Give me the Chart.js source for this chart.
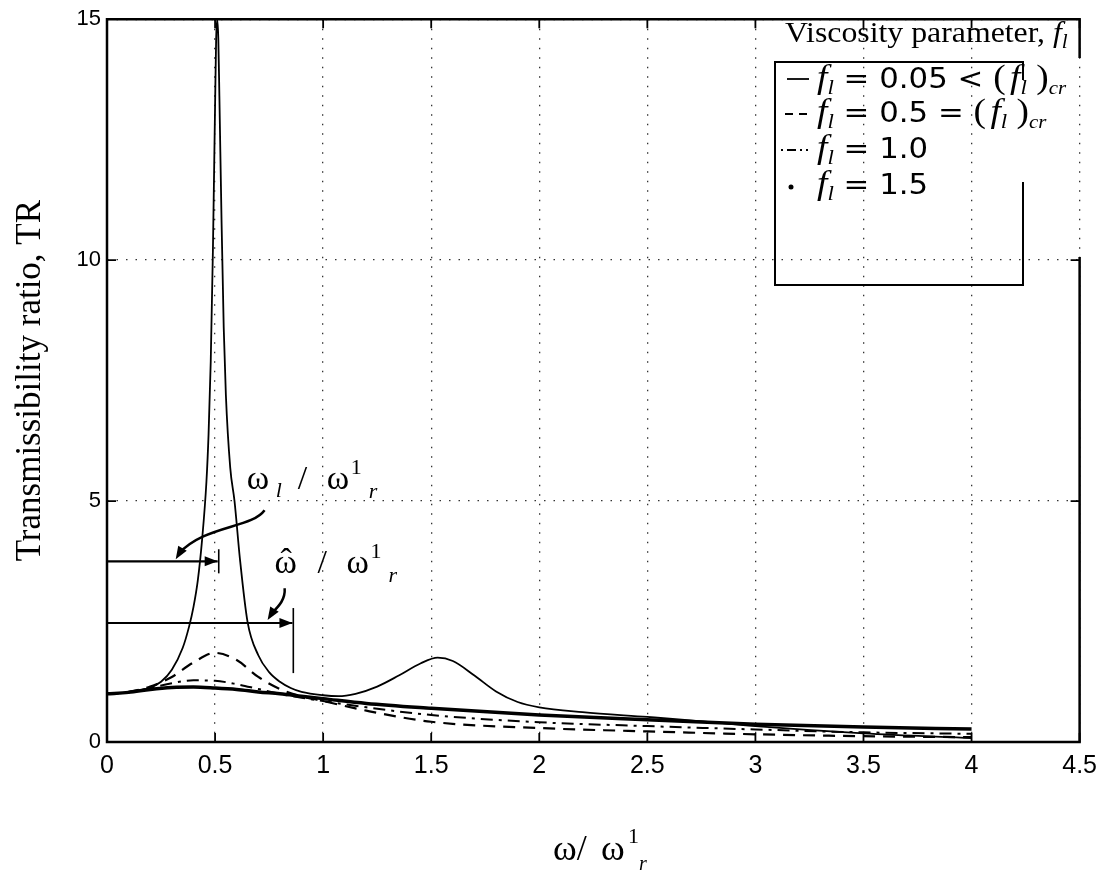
<!DOCTYPE html>
<html>
<head>
<meta charset="utf-8">
<script src="https://cdn.jsdelivr.net/npm/chart.js@4.4.1/dist/chart.umd.min.js"></script>
<style>
  body { margin: 0; background: #fff; }
  canvas { display: block; }
</style>
</head>
<body>
<canvas id="grafico" width="1106" height="872"></canvas>
<script>
// frequency ratio w / w1_r
const freqFine = [0, 0.1, 0.2, 0.25, 0.3, 0.35, 0.38, 0.4, 0.42, 0.44, 0.46, 0.47, 0.48, 0.49, 0.5, 0.505, 0.51,
  0.515, 0.52, 0.53, 0.54, 0.55, 0.57, 0.59, 0.615, 0.65, 0.7, 0.75, 0.8, 0.85, 0.9, 1.0, 1.07, 1.15, 1.25, 1.35,
  1.45, 1.53, 1.6, 1.7, 1.8, 1.9, 2.0, 2.2, 2.5, 2.7, 3.0, 3.5, 4.0];
const freq = [0, 0.1, 0.2, 0.3, 0.4, 0.5, 0.6, 0.7, 0.8, 0.9, 1.0, 1.2, 1.5, 2.0, 2.5, 3.0, 3.5, 4.0];

// transmissibility ratio TR for each viscosity parameter f_l
const tr005 = [1.0, 1.03, 1.13, 1.25, 1.5, 1.95, 2.4, 2.8, 3.35, 4.2, 5.4, 6.4, 7.9, 10.2, 13.2, 14.6, 15.0,
  14.6, 13.4, 10.8, 8.6, 7.2, 5.7, 5.0, 3.8, 2.5, 1.8, 1.45, 1.25, 1.12, 1.04, 0.97, 0.95, 1.0, 1.15, 1.38,
  1.63, 1.75, 1.68, 1.38, 1.05, 0.83, 0.72, 0.62, 0.52, 0.45, 0.33, 0.18, 0.08];
const tr05 = [1.0, 1.04, 1.15, 1.35, 1.65, 1.85, 1.7, 1.35, 1.1, 0.95, 0.85, 0.65, 0.42, 0.29, 0.22, 0.16, 0.12, 0.1];
const tr10 = [1.0, 1.03, 1.12, 1.22, 1.28, 1.27, 1.2, 1.1, 1.0, 0.92, 0.85, 0.72, 0.56, 0.41, 0.33, 0.26, 0.2, 0.17];
const tr15 = [1.0, 1.03, 1.09, 1.13, 1.14, 1.12, 1.09, 1.04, 1.0, 0.95, 0.9, 0.8, 0.7, 0.56, 0.46, 0.37, 0.31, 0.27];

const xTicks = [0, 0.5, 1, 1.5, 2, 2.5, 3, 3.5, 4, 4.5];
const yTicks = [0, 5, 10, 15];

const serif = '"Liberation Serif", "Times New Roman", serif';
const sans = '"Liberation Sans", Arial, sans-serif';
const numFont = '"DejaVu Sans", sans-serif';

function puntos(xs, ys) {
  return xs.map((v, i) => ({x: v, y: ys[i]}));
}

// writes a run of pieces [text, font, dy, extra gap] starting at x, returns end x
function escribir(ctx, x, y, piezas) {
  piezas.forEach(p => {
    ctx.font = p[1];
    ctx.fillText(p[0], x, y + (p[2] || 0));
    x += ctx.measureText(p[0]).width + (p[3] || 0);
  });
  return x;
}

// pieces placed at fixed offsets from (x, y): [text, font, dx, dy]
function colocar(ctx, x, y, piezas) {
  piezas.forEach(p => {
    ctx.font = p[1];
    ctx.fillText(p[0], x + p[2], y + p[3]);
  });
}

function flecha(ctx, x0, y0, x1, y1) {
  const ang = Math.atan2(y1 - y0, x1 - x0);
  const L = 13, W = 5;
  ctx.beginPath();
  ctx.moveTo(x1, y1);
  ctx.lineTo(x1 - L * Math.cos(ang) + W * Math.sin(ang), y1 - L * Math.sin(ang) - W * Math.cos(ang));
  ctx.lineTo(x1 - L * Math.cos(ang) - W * Math.sin(ang), y1 - L * Math.sin(ang) + W * Math.cos(ang));
  ctx.closePath();
  ctx.fill();
}

const fondo = {
  id: 'fondo',
  beforeDraw(chart) {
    const ctx = chart.ctx;
    ctx.save();
    ctx.fillStyle = '#fff';
    ctx.fillRect(0, 0, chart.width, chart.height);
    ctx.restore();
  }
};

const marco = {
  id: 'marco',
  afterDraw(chart) {
    const {ctx, chartArea: a, scales: {x, y}} = chart;
    ctx.save();
    ctx.strokeStyle = '#000';
    ctx.fillStyle = '#000';
    ctx.lineWidth = 2.5;
    // frame, right side broken behind the legend
    ctx.beginPath();
    ctx.moveTo(a.right, 58);
    ctx.lineTo(a.right, a.top);
    ctx.lineTo(a.left, a.top);
    ctx.lineTo(a.left, a.bottom);
    ctx.lineTo(a.right, a.bottom);
    ctx.lineTo(a.right, 257);
    ctx.stroke();
    // inward ticks on all four sides
    ctx.lineWidth = 1.8;
    ctx.beginPath();
    xTicks.forEach(t => {
      const px = x.getPixelForValue(t);
      ctx.moveTo(px, a.bottom); ctx.lineTo(px, a.bottom - 9);
      ctx.moveTo(px, a.top); ctx.lineTo(px, a.top + 9);
    });
    yTicks.forEach(t => {
      const py = y.getPixelForValue(t);
      ctx.moveTo(a.left, py); ctx.lineTo(a.left + 9, py);
      if (py > 257 || py < 58) { ctx.moveTo(a.right, py); ctx.lineTo(a.right - 9, py); }
    });
    ctx.stroke();

    // axis titles
    ctx.textBaseline = 'alphabetic';
    ctx.save();
    ctx.translate(40, (a.top + a.bottom) / 2);
    ctx.rotate(-Math.PI / 2);
    ctx.font = '35px ' + serif;
    ctx.textAlign = 'center';
    ctx.fillText('Transmissibility ratio, TR', 0, 0);
    ctx.restore();

    colocar(ctx, 553, 860, [
      ['\u03c9/', '36px ' + serif, 0, 0],
      ['\u03c9', '36px ' + serif, 48, 0],
      ['1', '22px ' + serif, 75, -17],
      ['r', 'italic 20px ' + serif, 86, 10]
    ]);

    // legend
    ctx.lineWidth = 2;
    ctx.beginPath();
    ctx.moveTo(1023, 80); ctx.lineTo(1023, 62); ctx.lineTo(775, 62);
    ctx.lineTo(775, 285); ctx.lineTo(1023, 285); ctx.lineTo(1023, 182);
    ctx.stroke();

    ctx.save();
    ctx.translate(785, 42);
    ctx.scale(1.06, 1);
    let lx = escribir(ctx, 0, 0, [['Viscosity parameter, ', '30px ' + serif], ['f', 'italic 30px ' + serif]]);
    escribir(ctx, lx, 0, [['l', 'italic 20px ' + serif, 6]]);
    ctx.restore();

    const filas = [
      {yb: 88, tail: ' = 0.05 < ', cr: true},
      {yb: 122, tail: ' = 0.5 = ', cr: true},
      {yb: 158, tail: ' = 1.0', cr: false},
      {yb: 194, tail: ' = 1.5', cr: false}
    ];
    filas.forEach(r => {
      ctx.save();
      ctx.translate(817, r.yb);
      ctx.scale(1.1, 1);
      let tx = escribir(ctx, 0, 0, [['f', 'italic 34px ' + serif], ['l', 'italic 21px ' + serif, 6]]);
      tx = escribir(ctx, tx, 0, [[r.tail, '28px ' + numFont]]);
      if (r.cr) {
        tx = escribir(ctx, tx, 0, [['(', '34px ' + serif, 0, 4], ['f', 'italic 34px ' + serif],
          ['l', 'italic 21px ' + serif, 6], [' )', '34px ' + serif]]);
        escribir(ctx, tx, 0, [['cr', 'italic 19px ' + serif, 6]]);
      }
      ctx.restore();
    });
    // legend samples
    ctx.lineWidth = 1.8;
    ctx.beginPath(); ctx.moveTo(787, 79); ctx.lineTo(809, 79); ctx.stroke();
    ctx.setLineDash([8, 6]);
    ctx.beginPath(); ctx.moveTo(785, 114); ctx.lineTo(811, 114); ctx.stroke();
    ctx.setLineDash([2, 4, 9, 4, 2, 4]);
    ctx.beginPath(); ctx.moveTo(781, 150); ctx.lineTo(812, 150); ctx.stroke();
    ctx.setLineDash([]);
    ctx.beginPath(); ctx.arc(791, 187, 2.5, 0, Math.PI * 2); ctx.fill();

    // frequency markers
    const X = v => x.getPixelForValue(v), Y = v => y.getPixelForValue(v);
    ctx.lineWidth = 2.2;
    ctx.beginPath(); ctx.moveTo(X(0), Y(3.75)); ctx.lineTo(X(0.512), Y(3.75)); ctx.stroke();
    flecha(ctx, X(0), Y(3.75), X(0.512), Y(3.75));
    ctx.lineWidth = 1.6;
    ctx.beginPath(); ctx.moveTo(X(0.517), Y(4.0)); ctx.lineTo(X(0.517), Y(3.5)); ctx.stroke();
    ctx.lineWidth = 2.2;
    ctx.beginPath(); ctx.moveTo(X(0), Y(2.47)); ctx.lineTo(X(0.858), Y(2.47)); ctx.stroke();
    flecha(ctx, X(0), Y(2.47), X(0.858), Y(2.47));
    ctx.lineWidth = 1.6;
    ctx.beginPath(); ctx.moveTo(X(0.862), Y(2.78)); ctx.lineTo(X(0.862), Y(1.43)); ctx.stroke();

    // leaders
    ctx.lineWidth = 2.5;
    ctx.beginPath();
    ctx.moveTo(X(0.729), Y(4.81));
    ctx.bezierCurveTo(X(0.669), Y(4.43), X(0.45), Y(4.5), X(0.33), Y(3.9));
    ctx.stroke();
    flecha(ctx, X(0.36), Y(4.1), X(0.318), Y(3.79));
    ctx.beginPath();
    ctx.moveTo(X(0.822), Y(3.19));
    ctx.bezierCurveTo(X(0.826), Y(2.94), X(0.79), Y(2.8), X(0.758), Y(2.65));
    ctx.stroke();
    flecha(ctx, X(0.775), Y(2.76), X(0.743), Y(2.53));

    // marker labels
    colocar(ctx, X(0.646), Y(5.26), [
      ['\u03c9', '34px ' + serif, 0, 0],
      ['l', 'italic 22px ' + serif, 29, 8],
      ['/', '34px ' + serif, 51, 0],
      ['\u03c9', '34px ' + serif, 80, 0],
      ['1', '22px ' + serif, 104, -15],
      ['r', 'italic 22px ' + serif, 122, 9]
    ]);
    colocar(ctx, X(0.775), Y(3.5), [
      ['\u03c9', '34px ' + serif, 0, 0],
      ['\u02c6', '34px ' + serif, 6, -1],
      ['/', '34px ' + serif, 43, 0],
      ['\u03c9', '34px ' + serif, 72, 0],
      ['1', '22px ' + serif, 96, -15],
      ['r', 'italic 22px ' + serif, 114, 9]
    ]);

    ctx.restore();
  }
};

const miCanvas = document.getElementById('grafico').getContext('2d');
const chart = new Chart(miCanvas, {
  type: 'line',
  data: {
    datasets: [
      {label: 'f_l = 1.5', data: puntos(freq, tr15), borderColor: '#000', borderWidth: 3.5},
      {label: 'f_l = 1.0', data: puntos(freq, tr10), borderColor: '#000', borderWidth: 2, borderDash: [12, 6, 3, 6]},
      {label: 'f_l = 0.5', data: puntos(freq, tr05), borderColor: '#000', borderWidth: 2.2, borderDash: [12, 8]},
      {label: 'f_l = 0.05', data: puntos(freqFine, tr005), borderColor: '#000', borderWidth: 1.8}
    ]
  },
  options: {
    responsive: false,
    animation: false,
    devicePixelRatio: 1,
    elements: {
      point: {radius: 0},
      line: {cubicInterpolationMode: 'monotone', fill: false}
    },
    layout: {padding: {top: 18, right: 24, left: 0, bottom: 0}},
    plugins: {legend: {display: false}, tooltip: {enabled: false}},
    scales: {
      x: {
        type: 'linear', min: 0, max: 4.5,
        afterFit: s => { s.height = 130; },
        afterBuildTicks: s => { s.ticks = xTicks.map(v => ({value: v})); },
        grid: {color: '#333', lineWidth: 1.3, drawTicks: false},
        border: {display: false, dash: [1.5, 8]},
        ticks: {color: '#000', font: {family: sans, size: 25}, padding: 9, maxRotation: 0,
          callback: v => String(v)}
      },
      y: {
        type: 'linear', min: 0, max: 15,
        afterFit: s => { s.width = 107; },
        afterBuildTicks: s => { s.ticks = yTicks.map(v => ({value: v})); },
        grid: {color: '#333', lineWidth: 1.3, drawTicks: false},
        border: {display: false, dash: [1.5, 8]},
        ticks: {color: '#000', font: {family: sans, size: 22}, padding: 6, callback: v => String(v)}
      }
    }
  },
  plugins: [fondo, marco]
});
</script>
</body>
</html>
